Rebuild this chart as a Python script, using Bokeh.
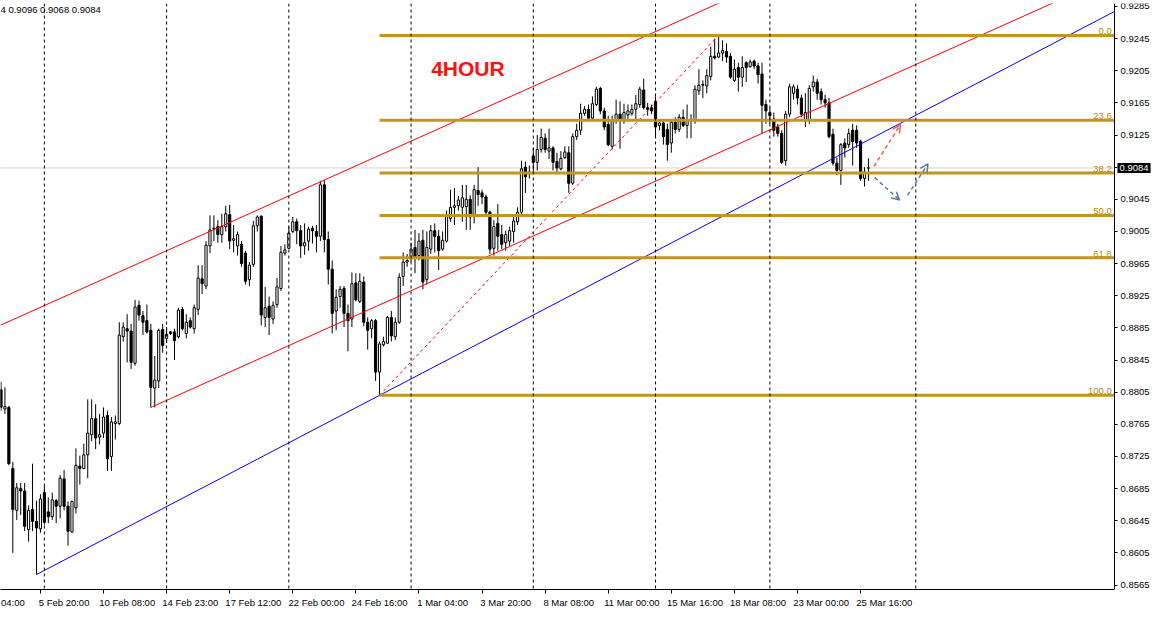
from bokeh.plotting import figure
from bokeh.models import Range1d, FixedTicker, Label, Arrow, OpenHead, Span, NumeralTickFormatter
from bokeh.embed import file_html
from bokeh.resources import INLINE
from bokeh.core.properties import value

# ---------------- data (4-hour candles, bar index 0..220) ----------------
opens = [
 0.8808, 0.8784, 0.8786, 0.8710, 0.8658, 0.8685, 0.8682, 0.8634, 0.8659, 0.8644,
 0.8635, 0.8680, 0.8656, 0.8650, 0.8670, 0.8663, 0.8697, 0.8663, 0.8631, 0.8661,
 0.8713, 0.8710, 0.8727, 0.8752, 0.8772, 0.8749, 0.8754, 0.8776, 0.8725, 0.8766,
 0.8766, 0.8874, 0.8884, 0.8881, 0.8841, 0.8913, 0.8900, 0.8894, 0.8882, 0.8810,
 0.8819, 0.8883, 0.8872, 0.8880, 0.8880, 0.8874, 0.8908, 0.8878, 0.8894, 0.8884,
 0.8908, 0.8946, 0.8937, 0.8987, 0.9008, 0.9011, 0.9001, 0.9011, 0.9026, 0.8994,
 0.8987, 0.8989, 0.8978, 0.8945, 0.8964, 0.9012, 0.9024, 0.8898, 0.8912, 0.8896,
 0.8914, 0.8934, 0.8978, 0.8984, 0.9005, 0.9017, 0.9006, 0.8987, 0.8993, 0.9009,
 0.9005, 0.8999, 0.9063, 0.8995, 0.8958, 0.8906, 0.8924, 0.8934, 0.8903, 0.8896,
 0.8941, 0.8918, 0.8942, 0.8892, 0.8884, 0.8894, 0.8830, 0.8864, 0.8866, 0.8898,
 0.8874, 0.8892, 0.8949, 0.8967, 0.8972, 0.8985, 0.8975, 0.8994, 0.8945, 0.8983,
 0.9006, 0.8999, 0.8983, 0.8993, 0.9021, 0.9035, 0.9037, 0.9035, 0.9036, 0.9045,
 0.9024, 0.9056, 0.9053, 0.9048, 0.9029, 0.8984, 0.9015, 0.9001, 0.8991, 0.8993,
 0.9005, 0.9017, 0.9029, 0.9085, 0.9078, 0.9099, 0.9091, 0.9107, 0.9121, 0.9105,
 0.9109, 0.9092, 0.9083, 0.9097, 0.9103, 0.9065, 0.9123, 0.9131, 0.9152, 0.9157,
 0.9146, 0.9163, 0.9183, 0.9155, 0.9138, 0.9111, 0.9144, 0.9151, 0.9143, 0.9150,
 0.9152, 0.9157, 0.9163, 0.9181, 0.9159, 0.9159, 0.9167, 0.9137, 0.9140, 0.9132,
 0.9115, 0.9141, 0.9132, 0.9147, 0.9137, 0.9144, 0.9143, 0.9180, 0.9187, 0.9186,
 0.9198, 0.9223, 0.9222, 0.9227, 0.9229, 0.9223, 0.9193, 0.9209, 0.9197, 0.9215,
 0.9210, 0.9217, 0.9211, 0.9201, 0.9163, 0.9153, 0.9145, 0.9135, 0.9127, 0.9093,
 0.9151, 0.9177, 0.9182, 0.9171, 0.9143, 0.9143, 0.9185, 0.9191, 0.9179, 0.9169,
 0.9165, 0.9126, 0.9090, 0.9081, 0.9115, 0.9113, 0.9131, 0.9131, 0.9117, 0.9071,
 0.9084]
highs = [
 0.8818, 0.8811, 0.8788, 0.8718, 0.8692, 0.8692, 0.8692, 0.8664, 0.8716, 0.8670,
 0.8678, 0.8688, 0.8674, 0.8680, 0.8672, 0.8702, 0.8708, 0.8669, 0.8670, 0.8735,
 0.8726, 0.8741, 0.8796, 0.8796, 0.8790, 0.8778, 0.8786, 0.8782, 0.8774, 0.8776,
 0.8892, 0.8892, 0.8902, 0.8890, 0.8920, 0.8919, 0.8906, 0.8914, 0.8890, 0.8850,
 0.8884, 0.8890, 0.8886, 0.8881, 0.8884, 0.8910, 0.8911, 0.8902, 0.8898, 0.8914,
 0.8963, 0.8963, 0.8993, 0.9025, 0.9025, 0.9019, 0.9027, 0.9037, 0.9038, 0.9013,
 0.9005, 0.8993, 0.8981, 0.8967, 0.9018, 0.9025, 0.9025, 0.8936, 0.8924, 0.8918,
 0.8947, 0.8987, 0.8989, 0.9011, 0.9023, 0.9021, 0.9013, 0.9015, 0.9011, 0.9012,
 0.9013, 0.9068, 0.9069, 0.9005, 0.8969, 0.8933, 0.8937, 0.8937, 0.8914, 0.8954,
 0.8953, 0.8953, 0.8949, 0.8898, 0.8896, 0.8896, 0.8868, 0.8874, 0.8900, 0.8906,
 0.8898, 0.8953, 0.8979, 0.8977, 0.8991, 0.9007, 0.9003, 0.9007, 0.9005, 0.9013,
 0.9015, 0.9007, 0.9005, 0.9031, 0.9057, 0.9059, 0.9049, 0.9063, 0.9063, 0.9050,
 0.9063, 0.9085, 0.9057, 0.9051, 0.9031, 0.9019, 0.9039, 0.9013, 0.9006, 0.9011,
 0.9025, 0.9035, 0.9093, 0.9092, 0.9087, 0.9109, 0.9125, 0.9133, 0.9127, 0.9133,
 0.9111, 0.9103, 0.9105, 0.9111, 0.9111, 0.9127, 0.9139, 0.9164, 0.9161, 0.9163,
 0.9173, 0.9185, 0.9185, 0.9159, 0.9149, 0.9149, 0.9169, 0.9167, 0.9164, 0.9163,
 0.9163, 0.9175, 0.9185, 0.9195, 0.9165, 0.9163, 0.9173, 0.9143, 0.9143, 0.9139,
 0.9143, 0.9147, 0.9151, 0.9157, 0.9163, 0.9151, 0.9187, 0.9207, 0.9193, 0.9207,
 0.9235, 0.9245, 0.9249, 0.9243, 0.9239, 0.9227, 0.9219, 0.9215, 0.9223, 0.9217,
 0.9219, 0.9219, 0.9215, 0.9215, 0.9169, 0.9159, 0.9153, 0.9139, 0.9131, 0.9155,
 0.9189, 0.9188, 0.9187, 0.9175, 0.9177, 0.9187, 0.9199, 0.9195, 0.9183, 0.9175,
 0.9171, 0.9133, 0.9097, 0.9115, 0.9121, 0.9133, 0.9139, 0.9137, 0.9119, 0.9085,
 0.9096]
lows = [
 0.8782, 0.8778, 0.8714, 0.8605, 0.8646, 0.8652, 0.8632, 0.8619, 0.8632, 0.8578,
 0.8630, 0.8640, 0.8642, 0.8646, 0.8642, 0.8648, 0.8658, 0.8614, 0.8630, 0.8654,
 0.8690, 0.8709, 0.8698, 0.8744, 0.8734, 0.8740, 0.8748, 0.8707, 0.8707, 0.8746,
 0.8764, 0.8868, 0.8842, 0.8834, 0.8838, 0.8894, 0.8876, 0.8878, 0.8786, 0.8786,
 0.8810, 0.8854, 0.8866, 0.8876, 0.8845, 0.8872, 0.8882, 0.8872, 0.8884, 0.8878,
 0.8901, 0.8927, 0.8933, 0.8978, 0.8993, 0.8991, 0.8991, 0.9005, 0.8983, 0.8979,
 0.8975, 0.8961, 0.8939, 0.8937, 0.8961, 0.9005, 0.8888, 0.8886, 0.8876, 0.8890,
 0.8910, 0.8931, 0.8975, 0.8983, 0.9003, 0.8989, 0.8972, 0.8976, 0.8981, 0.8990,
 0.8979, 0.8993, 0.8979, 0.8939, 0.8878, 0.8882, 0.8910, 0.8886, 0.8856, 0.8886,
 0.8918, 0.8916, 0.8887, 0.8858, 0.8872, 0.8819, 0.8801, 0.8862, 0.8865, 0.8868,
 0.8870, 0.8890, 0.8937, 0.8961, 0.8967, 0.8953, 0.8969, 0.8933, 0.8939, 0.8977,
 0.8979, 0.8957, 0.8981, 0.8991, 0.9017, 0.9013, 0.9031, 0.9017, 0.9007, 0.9007,
 0.9015, 0.9037, 0.9039, 0.9025, 0.8977, 0.8975, 0.8981, 0.8983, 0.8981, 0.8987,
 0.8991, 0.9013, 0.9025, 0.9053, 0.9071, 0.9077, 0.9081, 0.9103, 0.9103, 0.9095,
 0.9081, 0.9077, 0.9081, 0.9095, 0.9053, 0.9063, 0.9119, 0.9125, 0.9149, 0.9143,
 0.9145, 0.9161, 0.9151, 0.9131, 0.9111, 0.9107, 0.9139, 0.9108, 0.9139, 0.9143,
 0.9149, 0.9145, 0.9159, 0.9157, 0.9149, 0.9151, 0.9123, 0.9131, 0.9113, 0.9093,
 0.9103, 0.9127, 0.9129, 0.9135, 0.9121, 0.9121, 0.9139, 0.9175, 0.9171, 0.9177,
 0.9193, 0.9219, 0.9221, 0.9217, 0.9215, 0.9195, 0.9191, 0.9179, 0.9185, 0.9191,
 0.9209, 0.9207, 0.9189, 0.9127, 0.9139, 0.9139, 0.9123, 0.9123, 0.9089, 0.9087,
 0.9147, 0.9169, 0.9163, 0.9147, 0.9135, 0.9139, 0.9179, 0.9169, 0.9163, 0.9159,
 0.9121, 0.9087, 0.9075, 0.9063, 0.9097, 0.9109, 0.9087, 0.9109, 0.9068, 0.9061,
 0.9068]
closes = [
 0.8786, 0.8787, 0.8716, 0.8659, 0.8686, 0.8682, 0.8638, 0.8658, 0.8644, 0.8636,
 0.8672, 0.8643, 0.8650, 0.8671, 0.8663, 0.8698, 0.8663, 0.8632, 0.8669, 0.8714,
 0.8710, 0.8727, 0.8754, 0.8772, 0.8748, 0.8752, 0.8774, 0.8722, 0.8768, 0.8768,
 0.8876, 0.8886, 0.8881, 0.8842, 0.8911, 0.8901, 0.8892, 0.8880, 0.8811, 0.8820,
 0.8882, 0.8863, 0.8877, 0.8878, 0.8869, 0.8907, 0.8884, 0.8892, 0.8886, 0.8910,
 0.8947, 0.8940, 0.8988, 0.9007, 0.9009, 0.9001, 0.9011, 0.9027, 0.8993, 0.8996,
 0.9001, 0.8965, 0.8943, 0.8963, 0.9012, 0.9023, 0.8901, 0.8910, 0.8898, 0.8913,
 0.8936, 0.8979, 0.8982, 0.9003, 0.9017, 0.9006, 0.8987, 0.8991, 0.9008, 0.9006,
 0.8999, 0.9063, 0.8995, 0.8958, 0.8903, 0.8923, 0.8933, 0.8903, 0.8894, 0.8940,
 0.8920, 0.8943, 0.8892, 0.8882, 0.8894, 0.8830, 0.8865, 0.8868, 0.8898, 0.8875,
 0.8892, 0.8948, 0.8967, 0.8969, 0.8983, 0.8973, 0.8993, 0.8942, 0.8985, 0.9006,
 0.8999, 0.8981, 0.8994, 0.9025, 0.9035, 0.9037, 0.9044, 0.9047, 0.9045, 0.9023,
 0.9057, 0.9051, 0.9048, 0.9029, 0.8983, 0.9011, 0.8999, 0.8989, 0.9001, 0.9006,
 0.9018, 0.9029, 0.9083, 0.9073, 0.9079, 0.9091, 0.9107, 0.9122, 0.9107, 0.9109,
 0.9091, 0.9084, 0.9096, 0.9104, 0.9065, 0.9123, 0.9131, 0.9152, 0.9157, 0.9146,
 0.9164, 0.9182, 0.9155, 0.9135, 0.9113, 0.9143, 0.9151, 0.9143, 0.9153, 0.9155,
 0.9157, 0.9164, 0.9182, 0.9159, 0.9157, 0.9155, 0.9135, 0.9140, 0.9123, 0.9113,
 0.9141, 0.9132, 0.9147, 0.9137, 0.9144, 0.9143, 0.9182, 0.9187, 0.9188, 0.9199,
 0.9223, 0.9221, 0.9227, 0.9230, 0.9222, 0.9197, 0.9207, 0.9197, 0.9209, 0.9209,
 0.9216, 0.9211, 0.9200, 0.9162, 0.9155, 0.9149, 0.9131, 0.9127, 0.9091, 0.9151,
 0.9185, 0.9185, 0.9171, 0.9151, 0.9153, 0.9183, 0.9191, 0.9177, 0.9169, 0.9165,
 0.9123, 0.9090, 0.9081, 0.9113, 0.9109, 0.9127, 0.9117, 0.9115, 0.9071, 0.9079,
 0.9084]

# axis ticks / labels
ytick_labels = ["0.8565", "0.8605", "0.8645", "0.8685", "0.8725", "0.8765", "0.8805",
                "0.8845", "0.8885", "0.8925", "0.8965", "0.9005", "0.9045", "0.9085",
                "0.9125", "0.9165", "0.9205", "0.9245", "0.9285"]
xtick_bars = [10, 26, 42, 58, 74, 90, 106, 122, 138, 154, 170, 186, 202, 218]
xtick_labels = ["5 Feb 20:00", "10 Feb 08:00", "14 Feb 23:00", "17 Feb 12:00",
                "22 Feb 00:00", "24 Feb 16:00", "1 Mar 04:00", "3 Mar 20:00",
                "8 Mar 08:00", "11 Mar 00:00", "15 Mar 16:00", "18 Mar 08:00",
                "23 Mar 00:00", "25 Mar 16:00"]
first_label_bar, first_label = 3, "04:00"
separator_bars = [11, 42, 73, 104, 135, 166, 195, 232]

# drawing objects
fib_levels = [0.0, 23.6, 38.2, 50.0, 61.8, 100.0]
fib_texts = ["0.0", "23.6", "38.2", "50.0", "61.8", "100.0"]
fib_low_bar, fib_high_bar = 96, 182
blue_bars = [9, 96]
channel_base_bars = [38, 193]
channel_upper_bar = 82
bid_price = 0.9084
bid_text = "0.9084"
header_text = "4 0.9096 0.9068 0.9084"
red_arrow = [(221.4, 0.9086, 228.1, 0.9138)]
blue_arrows = [(221.6, 0.9072, 227.9, 0.9044), (229.9, 0.9050, 235.1, 0.9089)]

# ---------------- figure ----------------
W, H = 1155, 610
BORDER_B, BORDER_T = 17, 3
X_START, X_AXIS = -0.125, 282.4          # price axis sits at X_AXIS
PX_PER_BAR = 1114.0 / (X_AXIS - X_START)
X_END = X_START + W / PX_PER_BAR          # frame spans whole width; labels live right of X_AXIS
Y_LOW, Y_HIGH = 0.85594, 0.92887
FONT = "Liberation Sans"

p = figure(width=W, height=H, output_backend="svg", toolbar_location=None,
           x_range=Range1d(X_START, X_END), y_range=Range1d(Y_LOW, Y_HIGH),
           y_axis_location="right", min_border_left=0, min_border_top=BORDER_T,
           min_border_right=0, min_border_bottom=BORDER_B)
p.outline_line_color = None
p.xgrid.visible = False
p.ygrid.visible = False

for b in separator_bars:
    p.add_layout(Span(location=b, dimension="height", line_color="black",
                      line_dash="3 3", line_width=1))
p.line([X_START, X_AXIS], [bid_price, bid_price], line_color="#a8a8a8",
       line_dash="1 1", line_width=1)

bars = list(range(len(opens)))
up = [i for i in bars if closes[i] >= opens[i]]
dn = [i for i in bars if closes[i] < opens[i]]

p.segment(x0=bars, y0=highs, x1=bars, y1=lows, line_color="black", line_width=1)
p.vbar(x=up, top=[closes[i] for i in up], bottom=[opens[i] for i in up], width=0.55,
       fill_color="white", line_color="black", line_width=1)
p.vbar(x=dn, top=[opens[i] for i in dn], bottom=[closes[i] for i in dn], width=0.55,
       fill_color="black", line_color="black", line_width=1)

def extend(xa, ya, xb, yb, x):
    return ya + (yb - ya) * (x - xa) / (xb - xa)

# blue trend line
bx0, bx1 = blue_bars
by0, by1 = lows[bx0], lows[bx1]
p.line([bx0, X_AXIS], [by0, extend(bx0, by0, bx1, by1, X_AXIS)], line_color="#0000ff", line_width=1)

# red channel
cx0, cx1 = channel_base_bars
cy0, cy1 = lows[cx0], lows[cx1]
p.line([cx0, X_AXIS], [cy0, extend(cx0, cy0, cx1, cy1, X_AXIS)], line_color="#ff0000", line_width=1)
uy = highs[channel_upper_bar]
off = uy - extend(cx0, cy0, cx1, cy1, channel_upper_bar)
p.line([X_START, X_AXIS], [extend(cx0, cy0, cx1, cy1, X_START) + off,
                           extend(cx0, cy0, cx1, cy1, X_AXIS) + off],
       line_color="#ff0000", line_width=1)

# fibonacci
f_lo, f_hi = lows[fib_low_bar], highs[fib_high_bar]
p.line([fib_low_bar, fib_high_bar], [f_lo, f_hi], line_color="#ff0000", line_dash="3 3", line_width=1)
fib_prices = [f_hi - lv / 100.0 * (f_hi - f_lo) for lv in fib_levels]
p.segment(x0=[fib_low_bar] * len(fib_prices), y0=fib_prices, x1=[X_AXIS] * len(fib_prices),
          y1=fib_prices, line_color="#c4961f", line_width=3)
p.text(x=[X_AXIS - 0.7] * len(fib_prices), y=fib_prices, text=fib_texts, text_align="right",
       text_baseline="bottom", y_offset=-1, text_font=value(FONT), text_font_size="9.5px",
       text_color="#b8860b")

# forecast arrows
for (xs, ys, xe, ye) in red_arrow:
    p.add_layout(Arrow(x_start=xs, y_start=ys, x_end=xe, y_end=ye, line_color="#f25c5c",
                       line_width=1.5, line_dash="4 3",
                       end=OpenHead(size=8, line_color="#f25c5c", line_width=1.5)))
for (xs, ys, xe, ye) in blue_arrows:
    p.add_layout(Arrow(x_start=xs, y_start=ys, x_end=xe, y_end=ye, line_color="#5b7b9c",
                       line_width=1.5, line_dash="4 3",
                       end=OpenHead(size=8, line_color="#5b7b9c", line_width=1.5)))

# texts
p.add_layout(Label(x=109.1, y=0.9193, text="4HOUR", text_color="#ff1010",
                   text_font=FONT, text_font_style="bold", text_font_size="21px"))
p.add_layout(Label(x=X_START, y=Y_HIGH - 0.0001, text=header_text, text_baseline="top",
                   text_font=FONT, text_font_size="9.5px", text_color="black"))
bid_label = Label(x=X_AXIS, x_offset=3, y=bid_price, text=bid_text,
                  text_baseline="middle", level="overlay",
                  text_color="white", background_fill_color="black",
                  text_font=FONT, text_font_size="9.5px")
try:
    bid_label.padding = 2
except Exception:
    pass
p.add_layout(bid_label)

# axes
ya = p.yaxis[0]
ya.fixed_location = X_AXIS
ya.ticker = FixedTicker(ticks=[float(s) for s in ytick_labels])
ya.formatter = NumeralTickFormatter(format="0.0000")
ya.major_tick_out = 3
ya.major_tick_in = 0
ya.minor_tick_line_color = None
ya.major_label_standoff = 3
ya.axis_line_color = "black"
ya.major_label_text_font = FONT
ya.major_label_text_font_size = "9.5px"
ya.major_label_text_color = "black"

xa = p.xaxis[0]
centers = [first_label_bar] + [b + 6 for b in xtick_bars]
labels = [first_label] + xtick_labels
xa.ticker = FixedTicker(ticks=centers, minor_ticks=xtick_bars)
xa.bounds = (X_START, X_AXIS)
xa.major_label_overrides = {c: l for c, l in zip(centers, labels)}
xa.major_tick_line_color = None
xa.major_tick_out = 0
xa.major_tick_in = 0
xa.minor_tick_line_color = "black"
xa.minor_tick_out = 4
xa.minor_tick_in = 0
xa.major_label_standoff = 3
xa.axis_line_color = "black"
xa.major_label_text_font = FONT
xa.major_label_text_font_size = "9.5px"
xa.major_label_text_color = "black"

open("out.html", "w").write(file_html(p, INLINE))
